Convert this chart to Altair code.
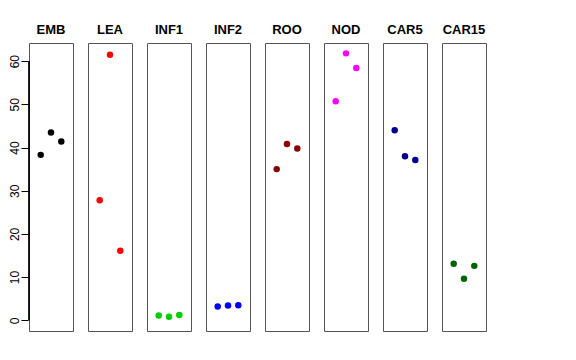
import altair as alt
import pandas as pd

panels = ["EMB", "LEA", "INF1", "INF2", "ROO", "NOD", "CAR5", "CAR15"]
colors = ["#000000", "#FF0000", "#00CD00", "#0000FF", "#8B0000", "#FF00FF", "#00008B", "#006400"]
values = {
    "EMB": [38.3, 43.5, 41.4],
    "LEA": [27.8, 61.5, 16.1],
    "INF1": [1.1, 0.8, 1.2],
    "INF2": [3.2, 3.4, 3.5],
    "ROO": [35.0, 40.8, 39.8],
    "NOD": [50.7, 61.8, 58.4],
    "CAR5": [44.0, 38.0, 37.1],
    "CAR15": [13.1, 9.6, 12.6],
}
yticks = [0, 10, 20, 30, 40, 50, 60]

rows = []
for p in panels:
    for i, v in enumerate(values[p], start=1):
        rows.append({"panel": p, "idx": i, "value": v})
df = pd.DataFrame(rows)

ysc = alt.Scale(domain=[-2.48, 64.2], nice=False, zero=False)
xsc = alt.Scale(domain=[-0.136, 4.136], nice=False, zero=False)

pts = alt.Chart().mark_circle(size=42, opacity=1).encode(
    x=alt.X("idx:Q", scale=xsc, axis=None),
    y=alt.Y("value:Q", scale=ysc, axis=alt.Axis(
        values=yticks, title=None, domain=False, grid=False,
        tickSize=7, tickColor="black", labelAngle=-90, labelAlign="center",
        labelBaseline="bottom", labelPadding=0, labelFontSize=12,
        labelColor="black", labelFont="Liberation Sans")),
    color=alt.Color("panel:N", scale=alt.Scale(domain=panels, range=colors), legend=None),
)

axline = alt.Chart().transform_filter(alt.datum.panel == "EMB").mark_rule(
    color="black", strokeWidth=1, clip=False).encode(
    x=alt.value(0), y=alt.datum(0, scale=ysc), y2=alt.datum(60))

chart = alt.layer(pts, axline, data=df).properties(width=44, height=288).facet(
    column=alt.Column("panel:N", sort=panels, title=None,
                      header=alt.Header(labelFontWeight="bold", labelFontSize=13,
                                        labelFont="Liberation Sans", labelColor="black",
                                        labelPadding=5)),
    spacing=13,
).configure_view(stroke="#555555", strokeWidth=1).properties(
    autosize=alt.AutoSizeParams(type="none"),
    padding={"left": 21, "top": 35, "right": 539, "bottom": 309}
)

chart.save("out.html", embed_options={"renderer": "svg", "actions": False})
